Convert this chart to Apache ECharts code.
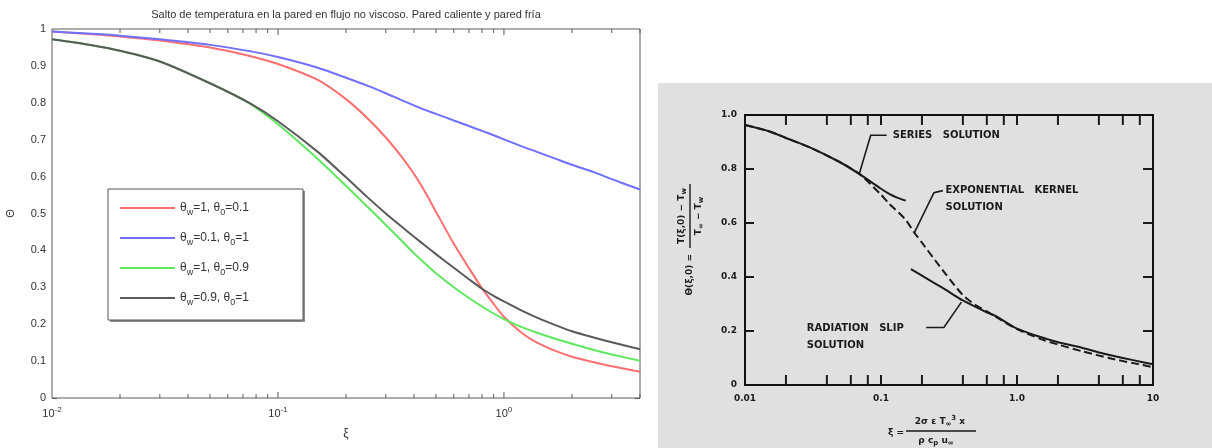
<!DOCTYPE html>
<html>
<head>
<meta charset="utf-8">
<script src="https://cdn.jsdelivr.net/npm/echarts@6/dist/echarts.min.js"></script>
<style>
html,body{margin:0;padding:0;background:#ffffff;}
#chart{width:1212px;height:448px;}
</style>
</head>
<body>
<div id="chart"></div>
<script>
// ---------------- left chart data ----------------
const leftTitle = 'Salto de temperatura en la pared en flujo no viscoso. Pared caliente y pared fría';
const leftNames = ['θw=1, θ0=0.1', 'θw=0.1, θ0=1', 'θw=1, θ0=0.9', 'θw=0.9, θ0=1'];
const leftXi     = [0.01,0.015,0.02,0.03,0.05,0.075,0.1,0.15,0.2,0.25,0.3,0.35,0.4,0.45,0.5,0.6,0.7,0.8,0.9,1.0,1.2,1.4,1.7,2.0,2.5,3.0,4.0];
const redTheta   = [0.993,0.986,0.980,0.969,0.950,0.927,0.905,0.862,0.810,0.757,0.706,0.656,0.607,0.556,0.505,0.418,0.352,0.297,0.255,0.220,0.176,0.150,0.127,0.112,0.097,0.086,0.071];
const blueTheta  = [0.993,0.987,0.982,0.972,0.957,0.940,0.924,0.895,0.868,0.846,0.826,0.808,0.793,0.780,0.770,0.752,0.737,0.724,0.712,0.701,0.682,0.667,0.648,0.632,0.612,0.593,0.565];
const greenTheta = [0.972,0.956,0.941,0.912,0.853,0.798,0.742,0.648,0.575,0.517,0.469,0.428,0.392,0.363,0.338,0.300,0.271,0.248,0.229,0.214,0.192,0.177,0.160,0.147,0.130,0.118,0.101];
const blackTheta = [0.972,0.956,0.941,0.912,0.853,0.799,0.750,0.667,0.598,0.543,0.500,0.466,0.437,0.412,0.390,0.353,0.322,0.296,0.277,0.262,0.237,0.218,0.197,0.181,0.164,0.151,0.132];
const leftMinorTicks = [0.02,0.03,0.04,0.05,0.06,0.07,0.08,0.09,0.2,0.3,0.4,0.5,0.6,0.7,0.8,0.9,2,3,4];
const leftMajorTicks = [0.1,1];

// ---------------- right chart data ----------------
const expXi       = [0.01,0.015,0.02,0.03,0.05,0.07,0.1,0.115,0.15,0.176,0.2,0.25,0.3,0.4,0.5,0.6,0.7,1.0,1.5,2,3,5,7,10];
const expTheta    = [0.963,0.940,0.915,0.880,0.825,0.780,0.705,0.671,0.615,0.564,0.527,0.462,0.410,0.333,0.295,0.273,0.252,0.207,0.170,0.150,0.125,0.097,0.082,0.066];
const seriesXi    = [0.01,0.015,0.02,0.03,0.05,0.07,0.1,0.115,0.13,0.152];
const seriesTheta = [0.963,0.940,0.915,0.880,0.825,0.780,0.727,0.708,0.695,0.683];
const slipXi      = [0.166,0.2,0.254,0.3,0.4,0.594,0.7,1.0,1.95,3,4.3,7,10];
const slipTheta   = [0.429,0.405,0.374,0.352,0.313,0.270,0.255,0.209,0.160,0.138,0.117,0.093,0.077];
const rightXTicks = [0.02,0.04,0.06,0.08,0.1,0.2,0.4,0.6,0.8,1,2,4,6,8];
const rightXLabels = ['0.01','0.1','1.0','10'];
const rightYLabels = ['0','0.2','0.4','0.6','0.8','1.0'];

// annotation anchors (data space of the right chart)
const seriesLeader = [[0.069,0.78],[0.084,0.925],[0.11,0.925]];
const expLeader    = [[0.176,0.564],[0.245,0.712],[0.285,0.72]];
const slipLeader   = [[0.215,0.213],[0.29,0.213],[0.39,0.307]];
const annoTexts = [
  {text:'SERIES   SOLUTION', at:[0.122,0.925]},
  {text:'EXPONENTIAL   KERNEL', at:[0.298,0.719]},
  {text:'SOLUTION', at:[0.298,0.659]},
  {text:'RADIATION   SLIP', at:[0.0285,0.211]},
  {text:'SOLUTION', at:[0.0285,0.147]}
];

const chart = echarts.init(document.getElementById('chart'), null, {renderer:'canvas'});
const LF = '"Liberation Sans", Arial, sans-serif';
const SF = '"DejaVu Sans", sans-serif';
const ink = '#1a1a1a';

function pairs(xs, ys){ return xs.map((x,i)=>[x, ys[i]]); }

function tickSeries(xi, yi, vals, ymin, ymax, len, color, width){
  return {
    type:'custom', xAxisIndex:xi, yAxisIndex:yi, silent:true, z:6, clip:false,
    data: vals.map(v=>[v, ymin]),
    renderItem: function(params, api){
      const v = api.value(0);
      const b = api.coord([v, ymin]);
      const t = api.coord([v, ymax]);
      return {type:'group', children:[
        {type:'line', shape:{x1:b[0],y1:b[1],x2:b[0],y2:b[1]-len}, style:{stroke:color, lineWidth:width}},
        {type:'line', shape:{x1:t[0],y1:t[1],x2:t[0],y2:t[1]+len}, style:{stroke:color, lineWidth:width}}
      ]};
    }
  };
}

function lineSeries(name, xs, ys, color, width, dashed, xi, yi){
  return {
    name:name, type:'line', xAxisIndex:xi, yAxisIndex:yi,
    data: pairs(xs, ys), symbol:'none', showSymbol:false,
    smooth:0.25, z:3,
    lineStyle:{color:color, width:width, type: dashed ? [8,4] : 'solid'},
    itemStyle:{color:color}
  };
}

const option = {
  animation:false,
  backgroundColor:'#ffffff',
  grid:[
    {left:52, top:29, width:588, height:369, show:true, borderColor:'#5a5a5a', borderWidth:1, backgroundColor:'#ffffff', z:1},
    {left:745, top:115, width:408, height:270, show:true, borderColor:'#111111', borderWidth:2, backgroundColor:'transparent', z:1}
  ],
  legend:{
    show:true, selectedMode:false, orient:'vertical', left:120, top:199,
    itemWidth:55, itemHeight:2, itemGap:12, icon:'rect', padding:0, z:20,
    data: leftNames,
    formatter: n => n.replace(/θ([w0])/g, 'θ{sub|$1}'),
    textStyle:{fontFamily:LF, fontSize:12, color:'#333', lineHeight:18,
      rich:{sub:{fontFamily:LF, fontSize:9, color:'#333', padding:[9,0,0,0]}}}
  },
  xAxis:[
    {gridIndex:0, type:'log', logBase:10, min:0.01, max:4,
     axisLine:{show:false}, axisTick:{show:false}, splitLine:{show:false}, minorTick:{show:false},
     axisLabel:{margin:8, color:'#333', fontFamily:LF, fontSize:11,
       formatter: v => { const l = Math.log10(v); if (Math.abs(l-Math.round(l))>1e-6) return ''; return '{b|10}{s|'+Math.round(l)+'}'; },
       rich:{b:{fontFamily:LF, fontSize:11, color:'#333'}, s:{fontFamily:LF, fontSize:8, color:'#333', padding:[0,0,8,0]}}},
     name:'ξ', nameLocation:'middle', nameGap:30, nameTextStyle:{fontFamily:LF, fontSize:12, color:'#333'}},
    {gridIndex:1, type:'log', logBase:10, min:0.01, max:10,
     axisLine:{show:false}, axisTick:{show:false}, splitLine:{show:false},
     axisLabel:{margin:9, color:ink, fontFamily:SF, fontWeight:'bold', fontSize:9,
       formatter: v => rightXLabels[Math.round(Math.log10(v))+2] || ''}}
  ],
  yAxis:[
    {gridIndex:0, type:'value', min:0, max:1, interval:0.1,
     axisLine:{show:false}, splitLine:{show:false},
     axisTick:{show:true, inside:true, length:5, lineStyle:{color:'#5a5a5a'}},
     axisLabel:{margin:6, color:'#333', fontFamily:LF, fontSize:11},
     name:'Θ', nameLocation:'middle', nameGap:36, nameRotate:90, nameTextStyle:{fontFamily:LF, fontSize:11, color:'#333'}},
    {gridIndex:0, type:'value', position:'right', min:0, max:1, interval:0.1,
     axisLine:{show:false}, splitLine:{show:false}, axisLabel:{show:false},
     axisTick:{show:true, inside:true, length:5, lineStyle:{color:'#5a5a5a'}}},
    {gridIndex:1, type:'value', min:0, max:1, interval:0.2,
     axisLine:{show:false}, splitLine:{show:false},
     axisTick:{show:true, inside:true, length:9, lineStyle:{color:ink, width:2}},
     axisLabel:{margin:8, color:ink, fontFamily:SF, fontWeight:'bold', fontSize:9,
       formatter: v => rightYLabels[Math.round(v/0.2)]}},
    {gridIndex:1, type:'value', position:'right', min:0, max:1, interval:0.2,
     axisLine:{show:false}, splitLine:{show:false}, axisLabel:{show:false},
     axisTick:{show:true, inside:true, length:10, lineStyle:{color:ink, width:2}}}
  ],
  series:[
    lineSeries(leftNames[0], leftXi, redTheta,   '#ff6f6f', 2, false, 0, 0),
    lineSeries(leftNames[1], leftXi, blueTheta,  '#7070ff', 2, false, 0, 0),
    lineSeries(leftNames[2], leftXi, greenTheta, '#5ee85e', 2, false, 0, 0),
    lineSeries(leftNames[3], leftXi, blackTheta, '#5a5a5a', 2, false, 0, 0),
    tickSeries(0, 0, leftMinorTicks, 0, 1, 4, '#5a5a5a', 1),
    tickSeries(0, 0, leftMajorTicks, 0, 1, 6, '#5a5a5a', 1),
    lineSeries('Exponential kernel solution', expXi, expTheta, ink, 2, true, 1, 2),
    lineSeries('Series solution', seriesXi, seriesTheta, ink, 2, false, 1, 2),
    lineSeries('Radiation slip solution', slipXi, slipTheta, ink, 2, false, 1, 2),
    tickSeries(1, 2, rightXTicks, 0, 1, 10, ink, 2)
  ]
};
chart.setOption(option);

// ---- decorations & annotations (positioned through the chart's own scales) ----
const P = p => chart.convertToPixel({xAxisIndex:1, yAxisIndex:2}, p);
const font10 = 'bold 10px ' + SF;
const font9 = 'bold 9px ' + SF;
const graphics = [
  {type:'rect', z:-5, shape:{x:658, y:83, width:554, height:365}, style:{fill:'#e0e0e0'}},
  {type:'rect', z:8, shape:{x:110, y:191, width:195, height:131}, style:{fill:'#8a8a8a'}},
  {type:'rect', z:9, shape:{x:108, y:189, width:195, height:131}, style:{fill:'#ffffff', stroke:'#555', lineWidth:1}},
  {type:'text', z:10, style:{text:leftTitle, x:346, y:15, textAlign:'center', textVerticalAlign:'middle', font:'11px ' + LF, fill:'#333'}}
];
[seriesLeader, expLeader, slipLeader].forEach(L => {
  graphics.push({type:'polyline', z:10, shape:{points:L.map(P)}, style:{stroke:ink, lineWidth:1.6, fill:null}});
});
annoTexts.forEach(a => {
  const p = P(a.at);
  graphics.push({type:'text', z:10, style:{text:a.text, x:p[0], y:p[1], textAlign:'left', textVerticalAlign:'middle', font:font10, fill:ink}});
});
// rotated y title of the right chart
graphics.push({type:'group', x:690, y:250, rotation:Math.PI/2, z:10, children:[
  {type:'text', style:{text:'Θ(ξ,0) =', x:-4, y:0, textAlign:'right', textVerticalAlign:'middle', font:font9, fill:ink}},
  {type:'text', style:{text:'T(ξ,0) − T{s|w}', x:34, y:-2, textAlign:'center', textVerticalAlign:'bottom', font:font9, fill:ink,
    rich:{s:{font:'bold 7px ' + SF, fill:ink, padding:[6,0,0,0]}}}},
  {type:'line', shape:{x1:2, y1:0, x2:66, y2:0}, style:{stroke:ink, lineWidth:1.4}},
  {type:'text', style:{text:'T{s|∞} − T{s|w}', x:34, y:2, textAlign:'center', textVerticalAlign:'top', font:font9, fill:ink,
    rich:{s:{font:'bold 7px ' + SF, fill:ink, padding:[6,0,0,0]}}}}
]});
// x title of the right chart
graphics.push({type:'text', z:10, style:{text:'ξ =', x:888, y:433, textAlign:'left', textVerticalAlign:'middle', font:font9, fill:ink}});
graphics.push({type:'text', z:10, style:{text:'2σ ε T{s|∞}{p|3} x', x:940, y:428, textAlign:'center', textVerticalAlign:'bottom', font:font9, fill:ink,
  rich:{s:{font:'bold 7px ' + SF, fill:ink, padding:[6,0,0,0]}, p:{font:'bold 7px ' + SF, fill:ink, padding:[0,0,6,0]}}}});
graphics.push({type:'line', z:10, shape:{x1:906, y1:431, x2:976, y2:431}, style:{stroke:ink, lineWidth:1.4}});
graphics.push({type:'text', z:10, style:{text:'ρ c{s|p} u{s|∞}', x:936, y:434, textAlign:'center', textVerticalAlign:'top', font:font9, fill:ink,
  rich:{s:{font:'bold 7px ' + SF, fill:ink, padding:[6,0,0,0]}}}});
chart.setOption({graphic: graphics});
</script>
</body>
</html>
